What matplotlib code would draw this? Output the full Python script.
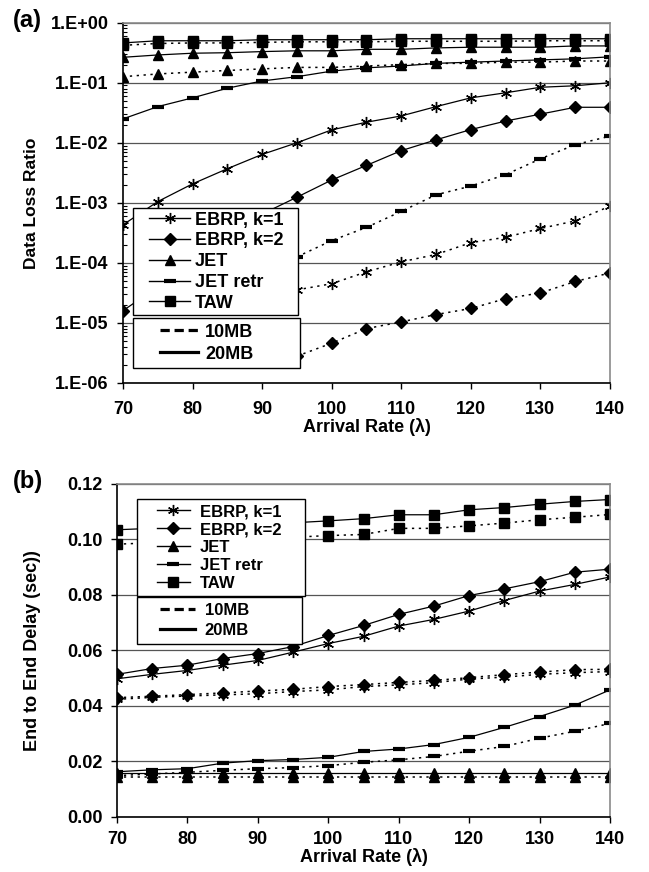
import numpy as np
import matplotlib
matplotlib.use('Agg')
import matplotlib.pyplot as plt
from matplotlib.lines import Line2D
from matplotlib.legend_handler import HandlerLine2D
from matplotlib.ticker import FixedLocator, FuncFormatter, LogLocator, NullFormatter

plt.rcParams['font.family'] = ['Liberation Sans', 'DejaVu Sans']
plt.rcParams['font.weight'] = 'bold'
plt.rcParams['axes.labelweight'] = 'bold'

nan = np.nan

# x values (arrival rate)
rate = [70, 75, 80, 85, 90, 95, 100, 105, 110, 115, 120, 125, 130, 135, 140]
names = ['EBRP, k=1', 'EBRP, k=2', 'JET', 'JET retr', 'TAW']
sizes = ['10MB', '20MB']

# (a) data loss ratio, 20MB buffer (solid)
loss_ebrp1_20 = [4.3e-4, 1.05e-3, 2.07e-3, 3.7e-3, 6.4e-3, 1.0e-2, 1.64e-2, 2.2e-2,
                 2.8e-2, 4.0e-2, 5.6e-2, 6.8e-2, 8.4e-2, 8.9e-2, 1.0e-1]
loss_ebrp2_20 = [1.6e-5, 4e-5, 1.1e-4, 2.8e-4, 6.5e-4, 1.24e-3, 2.4e-3, 4.2e-3,
                 7.4e-3, 1.12e-2, 1.66e-2, 2.3e-2, 3.0e-2, 3.9e-2, 3.9e-2]
loss_jet_20 = [0.265, 0.29, 0.31, 0.316, 0.33, 0.34, 0.34, 0.36,
               0.36, 0.38, 0.39, 0.39, 0.39, 0.41, 0.41]
loss_jetr_20 = [2.5e-2, 4.0e-2, 5.6e-2, 8.1e-2, 0.107, 0.126, 0.156, 0.177,
                0.19, 0.21, 0.22, 0.23, 0.24, 0.25, 0.27]
loss_taw_20 = [0.46, 0.50, 0.50, 0.50, 0.52, 0.52, 0.52, 0.52,
               0.54, 0.54, 0.54, 0.54, 0.54, 0.54, 0.54]

# (a) data loss ratio, 10MB buffer (dotted); nan = hidden under legend / below 1E-06
loss_ebrp1_10 = [nan, nan, nan, nan, nan, 3.55e-5, 4.5e-5, 7.1e-5,
                 1.04e-4, 1.38e-4, 2.17e-4, 2.67e-4, 3.74e-4, 5.0e-4, 8.8e-4]
loss_ebrp2_10 = [nan, nan, nan, nan, nan, 2.8e-6, 4.6e-6, 8.05e-6,
                 1.04e-5, 1.38e-5, 1.74e-5, 2.54e-5, 3.16e-5, 4.9e-5, 6.8e-5]
loss_jet_10 = [0.126, 0.14, 0.15, 0.16, 0.17, 0.18, 0.18, 0.19,
               0.20, 0.21, 0.21, 0.22, 0.22, 0.23, 0.23]
loss_jetr_10 = [nan, nan, nan, nan, nan, 1.26e-4, 2.35e-4, 3.9e-4,
                7.2e-4, 1.36e-3, 1.9e-3, 2.95e-3, 5.4e-3, 9.3e-3, 1.29e-2]
loss_taw_10 = [0.42, 0.45, 0.46, 0.46, 0.47, 0.48, 0.48, 0.48,
               0.49, 0.49, 0.49, 0.49, 0.50, 0.50, 0.50]

# (b) end to end delay (sec), 20MB
delay_ebrp1_20 = [0.0498, 0.0514, 0.0528, 0.0547, 0.0564, 0.0594, 0.0625, 0.0651,
                  0.0688, 0.0712, 0.0742, 0.0780, 0.0814, 0.0838, 0.0865]
delay_ebrp2_20 = [0.0514, 0.0535, 0.0547, 0.0571, 0.0589, 0.0614, 0.0654, 0.0690,
                  0.0730, 0.0760, 0.0798, 0.0822, 0.0848, 0.0882, 0.0893]
delay_jet_20 = [0.0160, 0.0160, 0.0160, 0.0160, 0.0160, 0.0160, 0.0160, 0.0160,
                0.0160, 0.0160, 0.0160, 0.0160, 0.0160, 0.0160, 0.0160]
delay_jetr_20 = [0.0163, 0.0170, 0.0174, 0.0194, 0.0203, 0.0207, 0.0215, 0.0236,
                 0.0245, 0.0261, 0.0287, 0.0323, 0.0362, 0.0403, 0.0458]
delay_taw_20 = [0.1035, 0.1040, 0.1045, 0.1050, 0.1055, 0.1060, 0.1067, 0.1075,
                0.1089, 0.1089, 0.1107, 0.1115, 0.1127, 0.1137, 0.1144]

# (b) end to end delay (sec), 10MB
delay_ebrp1_10 = [0.0424, 0.0431, 0.0436, 0.0440, 0.0444, 0.0452, 0.0458, 0.0470,
                  0.0476, 0.0484, 0.0497, 0.0504, 0.0514, 0.0520, 0.0524]
delay_ebrp2_10 = [0.0430, 0.0435, 0.0441, 0.0447, 0.0454, 0.0460, 0.0470, 0.0477,
                  0.0485, 0.0492, 0.0502, 0.0513, 0.0522, 0.0531, 0.0532]
delay_jet_10 = [0.0143, 0.0143, 0.0143, 0.0143, 0.0143, 0.0143, 0.0143, 0.0143,
                0.0143, 0.0143, 0.0143, 0.0143, 0.0143, 0.0143, 0.0143]
delay_jetr_10 = [0.0149, 0.0155, 0.0161, 0.0168, 0.0174, 0.0178, 0.0185, 0.0197,
                 0.0206, 0.0218, 0.0237, 0.0254, 0.0284, 0.0309, 0.0337]
delay_taw_10 = [0.0983, 0.0988, 0.0993, 0.0998, 0.1003, 0.1008, 0.1014, 0.1018,
                0.1040, 0.1040, 0.1049, 0.1059, 0.1071, 0.1080, 0.1090]

# marker per protocol
STYLE = {
    'EBRP, k=1': dict(marker=(6, 2, 0), ms=8, mew=1.0),
    'EBRP, k=2': dict(marker='D', ms=6.3),
    'JET': dict(marker='^', ms=7.5),
    'JET retr': dict(marker='_', ms=8, mew=3.0),
    'TAW': dict(marker='s', ms=7),
}
DOT = (0, (1.5, 3.0))


def draw_series(ax, series10, series20):
    for name, y in zip(names, series20):
        ax.plot(rate, y, color='k', lw=0.9, ls='-', mfc='k', mec='k', **STYLE[name])
    for name, y in zip(names, series10):
        ax.plot(rate, y, color='k', lw=1.1, ls=DOT, mfc='k', mec='k', **STYLE[name])


def style_axes(ax):
    for side in ['left', 'bottom']:
        ax.spines[side].set_color('k')
        ax.spines[side].set_linewidth(1.2)
    for side in ['top', 'right']:
        ax.spines[side].set_color('#8a8a8a')
        ax.spines[side].set_linewidth(1.2)
    ax.set_axisbelow(True)
    ax.yaxis.grid(True, which='major', color='#555555', lw=0.9)
    ax.set_xlim(70, 140)
    ax.set_xticks([70, 80, 90, 100, 110, 120, 130, 140])
    ax.tick_params(axis='both', which='major', direction='out', length=4.3,
                   width=1, labelsize=13)


def add_legends(ax, x0, top, w1, bottom, w2, fs, ls1, bp1, ls2, bp2, xpad1, hl1, htp1,
                xpad2, hl2, htp2):
    h1 = [Line2D([], [], color='k', lw=1.0, mfc='k', mec='k', **STYLE[n]) for n in names]
    leg1 = ax.legend(h1, names, loc='upper left', bbox_to_anchor=(x0, top, w1, 0),
                     mode='expand', borderaxespad=0, fontsize=fs, handlelength=hl1,
                     handletextpad=htp1, labelspacing=ls1, borderpad=bp1,
                     fancybox=False, framealpha=1, edgecolor='k',
                     handler_map={Line2D: HandlerLine2D(numpoints=1, xpad=xpad1)})
    leg1.get_frame().set_linewidth(1.0)
    ax.add_artist(leg1)
    h2 = [Line2D([], [], color='k', lw=2.3, ls=(0, (2.9, 1.5))),
          Line2D([], [], color='k', lw=2.3)]
    leg2 = ax.legend(h2, sizes, loc='lower left', bbox_to_anchor=(x0, bottom, w2, 0),
                     mode='expand', borderaxespad=0, fontsize=fs, handlelength=hl2,
                     handletextpad=htp2, labelspacing=ls2, borderpad=bp2,
                     fancybox=False, framealpha=1, edgecolor='k',
                     handler_map={Line2D: HandlerLine2D(numpoints=1, xpad=xpad2)})
    leg2.get_frame().set_linewidth(1.0)


fig = plt.figure(figsize=(6.49, 8.72), dpi=100)

# ---- (a) Data loss ratio ----
ax1 = fig.add_axes([0.1895, 0.5608, 0.7504, 0.4132])
draw_series(ax1,
            [loss_ebrp1_10, loss_ebrp2_10, loss_jet_10, loss_jetr_10, loss_taw_10],
            [loss_ebrp1_20, loss_ebrp2_20, loss_jet_20, loss_jetr_20, loss_taw_20])
ax1.set_yscale('log')
ax1.set_ylim(1e-6, 1)
style_axes(ax1)
ax1.yaxis.set_major_locator(FixedLocator([1e-6, 1e-5, 1e-4, 1e-3, 1e-2, 1e-1, 1]))
ax1.yaxis.set_major_formatter(FuncFormatter(
    lambda v, p: '1.E%+03d' % int(round(np.log10(v)))))
ax1.yaxis.set_minor_locator(LogLocator(base=10, subs=np.arange(2, 10), numticks=20))
ax1.yaxis.set_minor_formatter(NullFormatter())
ax1.tick_params(axis='y', which='minor', direction='in', length=3, width=0.8)
ax1.tick_params(axis='x', which='major', pad=9)
ax1.tick_params(axis='y', which='major', pad=6)
ax1.set_xlabel('Arrival Rate (\u03bb)', fontsize=13, labelpad=0)
ax1.set_ylabel('Data Loss Ratio', fontsize=12.5)
ax1.yaxis.set_label_coords(-0.172, 0.5)
add_legends(ax1, 0.0205, 0.4857, 0.339, 0.0416, 0.343, 13,
            0.21, 0.2, 0.28, 0.30, 0.7, 2.96, 0.28, 1.2, 3.3, 0.39)

# ---- (b) End to end delay ----
ax2 = fig.add_axes([0.1803, 0.0631, 0.7597, 0.3819])
draw_series(ax2,
            [delay_ebrp1_10, delay_ebrp2_10, delay_jet_10, delay_jetr_10, delay_taw_10],
            [delay_ebrp1_20, delay_ebrp2_20, delay_jet_20, delay_jetr_20, delay_taw_20])
ax2.set_ylim(0, 0.12)
style_axes(ax2)
ax2.set_yticks([0.0, 0.02, 0.04, 0.06, 0.08, 0.10, 0.12])
ax2.yaxis.set_major_formatter(FuncFormatter(lambda v, p: '%.2f' % v))
ax2.tick_params(axis='x', which='major', pad=6)
ax2.tick_params(axis='y', which='major', pad=6)
ax2.set_xlabel('Arrival Rate (\u03bb)', fontsize=13, labelpad=0)
ax2.set_ylabel('End to End Delay (sec))', fontsize=13)
ax2.yaxis.set_label_coords(-0.155, 0.5)
add_legends(ax2, 0.0406, 0.955, 0.341, 0.5195, 0.335, 12,
            0.18, 0.31, 0.28, 0.38, 0.87, 2.87, 0.6, 0.98, 3.09, 0.6)

fig.text(0.02, 1 - 20 / 872, '(a)', fontsize=17, fontweight='bold', va='center')
fig.text(0.02, 1 - 481 / 872, '(b)', fontsize=17, fontweight='bold', va='center')

fig.savefig('out.png', dpi=100)
